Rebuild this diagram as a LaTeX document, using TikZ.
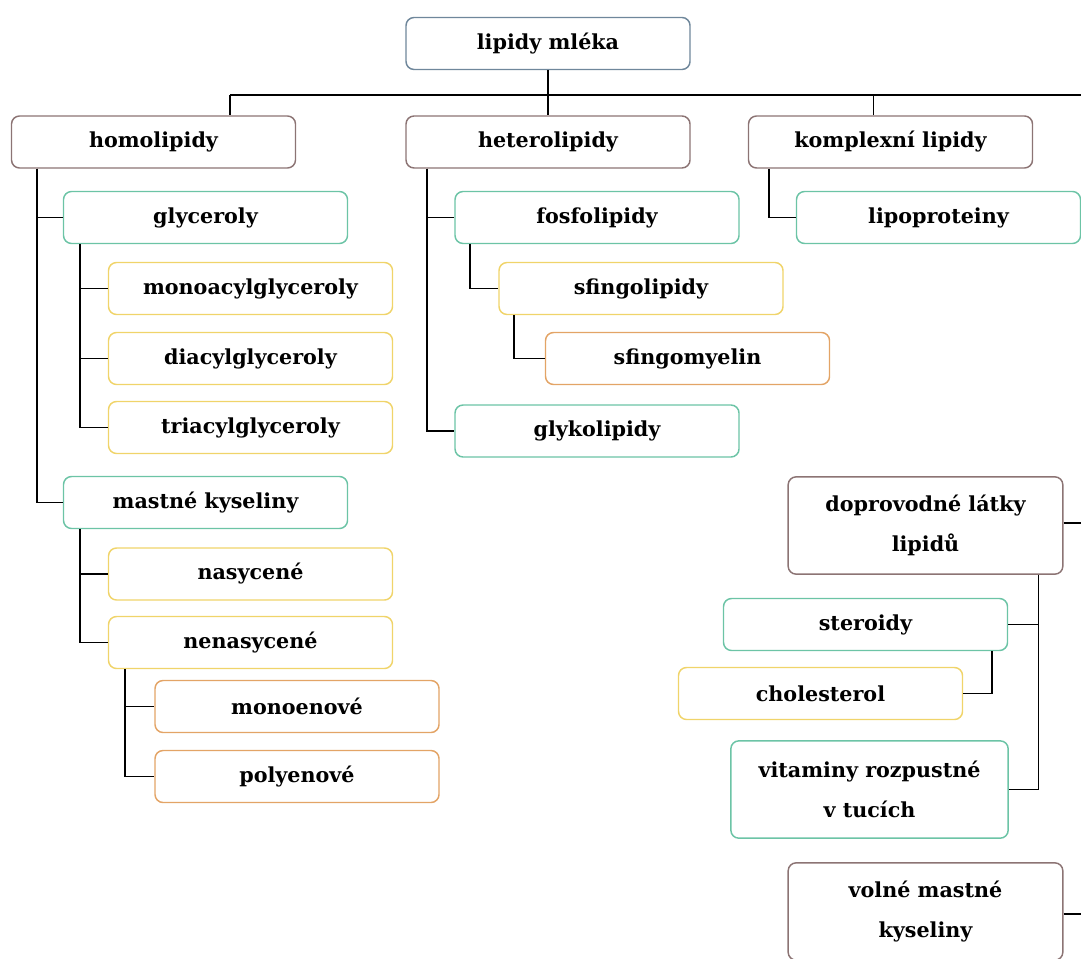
\documentclass[tikz,border=0pt]{standalone}
\usepackage{fontspec}
\setmainfont{DejaVu Serif}
\definecolor{topline}{HTML}{6F879B}
\definecolor{mainline}{HTML}{8C7474}
\definecolor{greenline}{HTML}{6CC4A6}
\definecolor{yellowline}{HTML}{F0D46A}
\definecolor{orangeline}{HTML}{E3A466}
\tikzset{
  box/.style={draw, line width=1.1pt, rounded corners=6pt, fill=white,
    minimum width=213pt, minimum height=39pt, align=center,
    font=\bfseries\fontsize{15.5}{30}\selectfont, inner sep=2pt},
  topbox/.style={box, draw=topline},
  mainbox/.style={box, draw=mainline},
  greenbox/.style={box, draw=greenline},
  yellowbox/.style={box, draw=yellowline},
  orangebox/.style={box, draw=orangeline},
  tallbox/.style={minimum width=206pt, minimum height=73pt},
  link/.style={line width=1.2pt, black}
}
\begin{document}
\begin{tikzpicture}[x=0.75pt, y=-0.75pt]
        \useasboundingbox (0,0) rectangle (1081,959);

        \node[topbox] (lipidy) at (548,43.5) {lipidy mléka};
        \node[mainbox] (homo) at (153.5,142) {homolipidy};
        \node[mainbox] (hetero) at (548,142) {heterolipidy};
        \node[mainbox] (komplex) at (890.5,142) {komplexní lipidy};

        \node[greenbox] (glycer) at (205.5,217.5) {glyceroly};
        \node[yellowbox] (mono) at (250.5,288.5) {monoacylglyceroly};
        \node[yellowbox] (diacyl) at (250.5,358.5) {diacylglyceroly};
        \node[yellowbox] (triacyl) at (250.5,427.5) {triacylglyceroly};
        \node[greenbox] (mastne) at (205.5,502.5) {mastné kyseliny};
        \node[yellowbox] (nasyc) at (250.5,574) {nasycené};
        \node[yellowbox] (nenasyc) at (250.5,642.5) {nenasycené};
        \node[orangebox] (monoen) at (297,706.5) {monoenové};
        \node[orangebox] (polyen) at (297,776.5) {polyenové};

        \node[greenbox] (fosfo) at (597,217.5) {fosfolipidy};
        \node[yellowbox] (sfingo) at (641,288.5) {sfingolipidy};
        \node[orangebox] (sfingomy) at (687.5,358.5) {sfingomyelin};
        \node[greenbox] (glyko) at (597,431) {glykolipidy};

        \node[greenbox] (lipoprot) at (938.5,217.5) {lipoproteiny};

        \node[mainbox, tallbox] (doprov) at (925.5,525.5) {doprovodné látky\\lipidů};
        \node[greenbox] (steroidy) at (865.5,624.5) {steroidy};
        \node[yellowbox] (chol) at (820.5,693.5) {cholesterol};
        \node[greenbox, tallbox, minimum width=208pt] (vitam) at (869.5,789.5) {vitaminy rozpustné\\v tucích};
        \node[mainbox, tallbox] (volne) at (925.5,911.5) {volné mastné\\kyseliny};

        \coordinate (busL) at (230,95);
        \coordinate (busR) at (1081,95);
        \coordinate (edgeD) at (1081,523);
        \coordinate (edgeV) at (1081,914);

        \draw[link] (busL) -- (busR);
        \draw[link] (lipidy) -- (hetero);
        \draw[link] (busL) -- (busL |- homo.north);
        \draw[link] ([xshift=-12.75pt]komplex.north) -- ([xshift=-12.75pt]komplex.north |- busR);

        \draw[link] ([xshift=19.5pt]homo.south west) |- (glycer.west);
        \draw[link] ([xshift=19.5pt]homo.south west) |- (mastne.west);
        \draw[link] ([xshift=12.75pt]glycer.south west) |- (mono.west);
        \draw[link] ([xshift=12.75pt]glycer.south west) |- (diacyl.west);
        \draw[link] ([xshift=12.75pt]glycer.south west) |- (triacyl.west);
        \draw[link] ([xshift=12.75pt]mastne.south west) |- (nasyc.west);
        \draw[link] ([xshift=12.75pt]mastne.south west) |- (nenasyc.west);
        \draw[link] ([xshift=12.75pt]nenasyc.south west) |- (monoen.west);
        \draw[link] ([xshift=12.75pt]nenasyc.south west) |- (polyen.west);

        \draw[link] ([xshift=16.5pt]hetero.south west) |- (fosfo.west);
        \draw[link] ([xshift=16.5pt]hetero.south west) |- (glyko.west);
        \draw[link] ([xshift=12pt]fosfo.south west) |- (sfingo.west);
        \draw[link] ([xshift=12pt]sfingo.south west) |- (sfingomy.west);

        \draw[link] ([xshift=15.75pt]komplex.south west) |- (lipoprot.west);

        \draw[link] (doprov.east |- edgeD) -- (edgeD);
        \draw[link] ([xshift=-18.75pt]doprov.south east) |- (steroidy.east);
        \draw[link] ([xshift=-18.75pt]doprov.south east) |- (vitam.east);
        \draw[link] ([xshift=-12pt]steroidy.south east) |- (chol.east);
        \draw[link] (volne.east |- edgeV) -- (edgeV);
      \end{tikzpicture}
\end{document}
